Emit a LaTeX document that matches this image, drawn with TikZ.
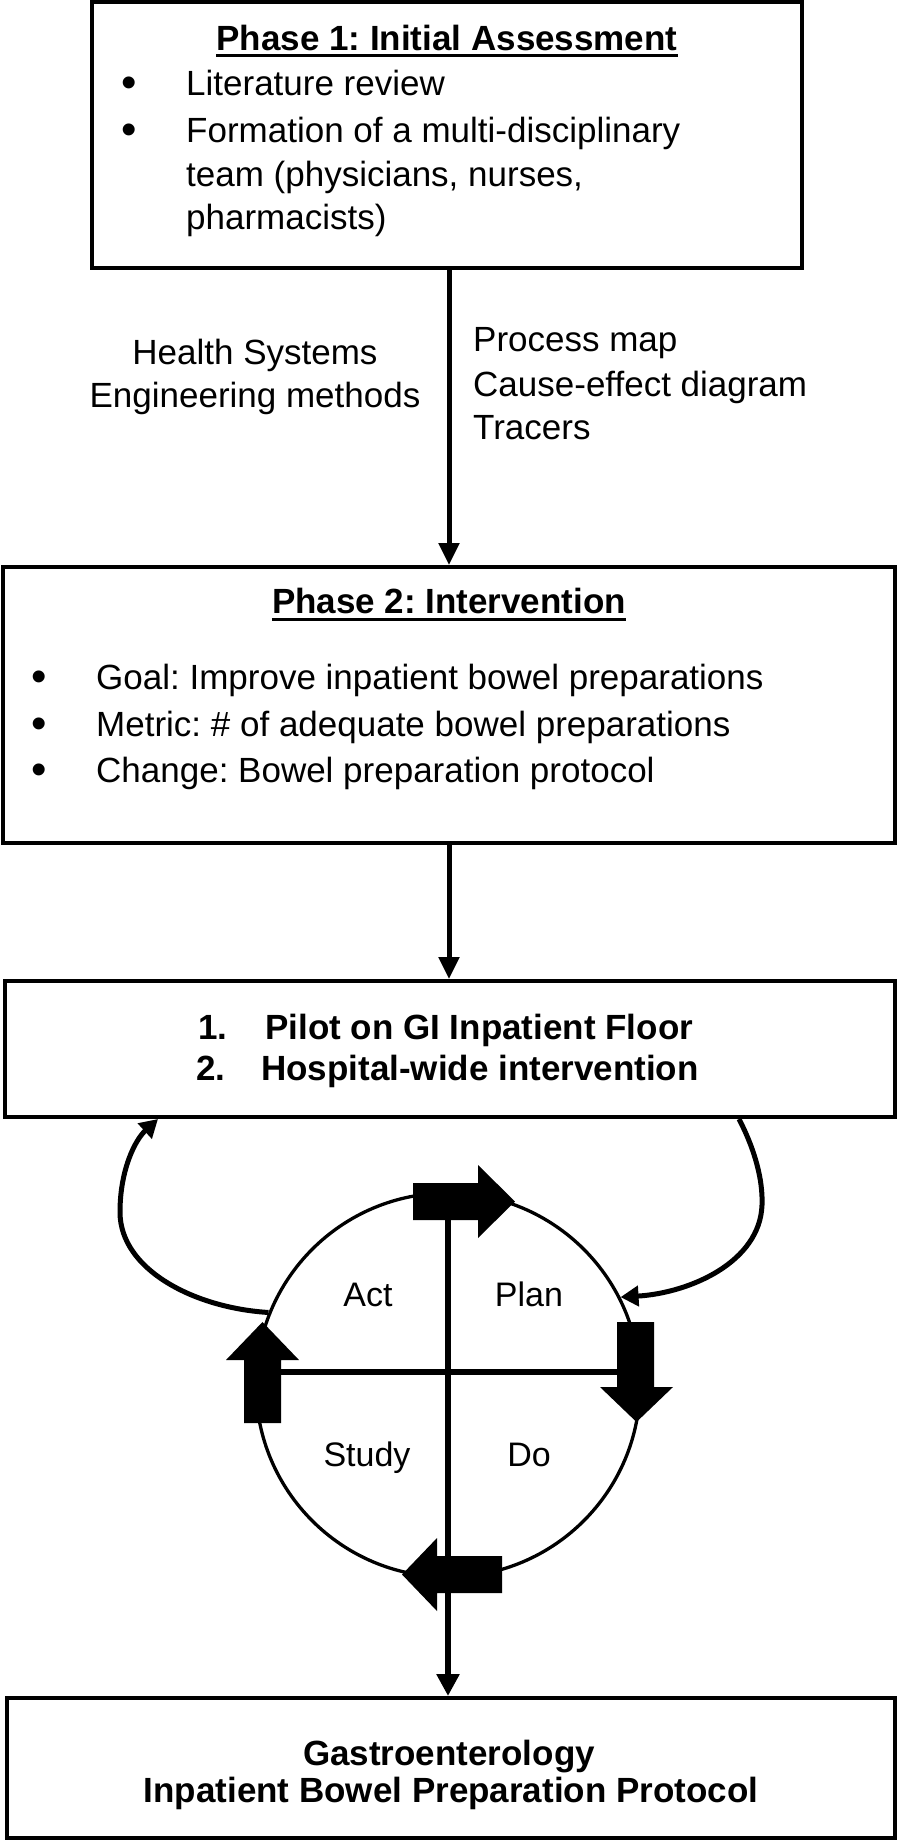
\documentclass[tikz,border=0pt]{standalone}
\usepackage{fontspec}
\setmainfont{Liberation Sans}
\usetikzlibrary{arrows.meta}
\frenchspacing
\begin{document}
\begin{tikzpicture}[x=1pt,y=-1pt,
  box/.style={draw, line width=4pt, rectangle, inner sep=0pt},
  txt/.style={inner sep=0pt, font=\fontsize{35}{42}\selectfont},
  btxt/.style={inner sep=0pt, font=\fontsize{35}{42}\selectfont\bfseries},
  bul/.style={inner sep=0pt, font=\fontsize{44}{44}\selectfont},
  ptxt/.style={inner sep=0pt, font=\fontsize{34}{40}\selectfont},
  conn/.style={line width=5pt, -{Triangle[length=22pt,width=20pt]}},
  loopc/.style={line width=5pt, -{Triangle[length=18pt,width=20pt]}},
  uline/.style={line width=3pt},
  blk/.style={fill=black},
]
\useasboundingbox (0,0) rectangle (898,1843);
\fill[white] (0,0) rectangle (898,1843);

% boxes
\node[box, minimum width=710pt, minimum height=266pt] (b1) at (447,135) {};
\node[box, minimum width=892pt, minimum height=276pt] (b2) at (449,705) {};
\node[box, minimum width=890pt, minimum height=136pt] (b3) at (450,1049) {};
\node[box, minimum width=888pt, minimum height=140pt] (b4) at (451,1768) {};

% box 1 text
\node[btxt, anchor=base] (t1) at (447,51) {Phase 1: Initial Assessment};
\draw[uline] ([yshift=-5pt]t1.base west) -- ([yshift=-5pt]t1.base east);
\node[bul, anchor=base] (b1a) at (129,98) {\textbullet};
\node[txt, anchor=base west] (l1a) at (186,96) {Literature review};
\node[bul, anchor=base] (b1b) at (129,145) {\textbullet};
\node[txt, anchor=base west] (l1b) at (186,143) {Formation of a multi-disciplinary};
\node[txt, anchor=base west] (l1c) at (186,187) {team (physicians, nurses,};
\node[txt, anchor=base west] (l1d) at (186,230) {pharmacists)};

% side labels
\node[txt, anchor=base] (hs1) at (255,364) {Health Systems};
\node[txt, anchor=base] (hs2) at (255,407) {Engineering methods};
\node[txt, anchor=base west] (m1) at (473,352) {Process map};
\node[txt, anchor=base west] (m2) at (473,396) {Cause-effect diagram};
\node[txt, anchor=base west] (m3) at (473,439) {Tracers};

% box 2 text
\node[btxt, anchor=base] (t2) at (449,613) {Phase 2: Intervention};
\draw[uline] ([yshift=-6pt]t2.base west) -- ([yshift=-6pt]t2.base east);
\node[bul, anchor=base] (b2a) at (39,691) {\textbullet};
\node[txt, anchor=base west] (l2a) at (96,689) {Goal: Improve inpatient bowel preparations};
\node[bul, anchor=base] (b2b) at (39,738) {\textbullet};
\node[txt, anchor=base west] (l2b) at (96,736) {Metric: \# of adequate bowel preparations};
\node[bul, anchor=base] (b2c) at (39,784) {\textbullet};
\node[txt, anchor=base west] (l2c) at (96,782) {Change: Bowel preparation protocol};

% box 3 text
\node[btxt, anchor=base west] (n1) at (198,1039) {1.};
\node[btxt, anchor=base west] (l3a) at (265,1039) {Pilot on GI Inpatient Floor};
\node[btxt, anchor=base west] (n2) at (196,1080) {2.};
\node[btxt, anchor=base west] (l3b) at (261,1080) {Hospital-wide intervention};

% box 4 text
\node[btxt, anchor=base] (l4a) at (449,1765) {Gastroenterology};
\node[btxt, anchor=base] (l4b) at (451,1802) {Inpatient Bowel Preparation Protocol};

% connectors between boxes
\draw[conn] ([xshift=2pt]b1.south) -- ([xshift=2pt]b1.south |- b2.north);
\draw[conn] (b2.south) -- (b2.south |- b3.north);

% PDCA circle
\node[circle, draw, line width=3.3pt, minimum size=384pt, inner sep=0pt] (pdca) at (448,1385) {};

\coordinate (topA) at (448,1215);
\coordinate (leftA) at (276,1372);
\coordinate (rightA) at (622,1372);
\draw[line width=5.5pt] (leftA) -- (rightA);
\draw[line width=6.5pt, -{Triangle[length=22pt,width=22pt]}] (topA) -- (topA |- b4.north);

% block arrows
\fill[blk] (413,1183) -- (478,1183) -- (478,1165) -- (515,1201.5) -- (478,1238) -- (478,1220) -- (413,1220) -- cycle;
\fill[blk] (617,1322) -- (654,1322) -- (654,1387) -- (673,1387) -- (636.5,1422) -- (600,1387) -- (617,1387) -- cycle;
\fill[blk] (502,1556) -- (437,1556) -- (437,1538) -- (402,1574.5) -- (437,1611) -- (437,1593) -- (502,1593) -- cycle;
\fill[blk] (244,1423) -- (244,1360) -- (226,1360) -- (262.5,1322) -- (299,1360) -- (281,1360) -- (281,1423) -- cycle;

% loop arrows
\draw[loopc] (pdca.158) .. controls (195,1308) and (120,1270) .. (120,1212) .. controls (120,1170) and (135,1140) .. ([xshift=155pt]b3.south west);
\draw[loopc] ([xshift=-158pt]b3.south east) .. controls (755,1150) and (763,1180) .. (762,1205) .. controls (760,1262) and (690,1293) .. (pdca.27);

% PDCA labels
\node[ptxt, anchor=base] (act) at (368,1306) {Act};
\node[ptxt, anchor=base] (plan) at (529,1306) {Plan};
\node[ptxt, anchor=base] (study) at (367,1466) {Study};
\node[ptxt, anchor=base] (do) at (529,1466) {Do};
\end{tikzpicture}
\end{document}
